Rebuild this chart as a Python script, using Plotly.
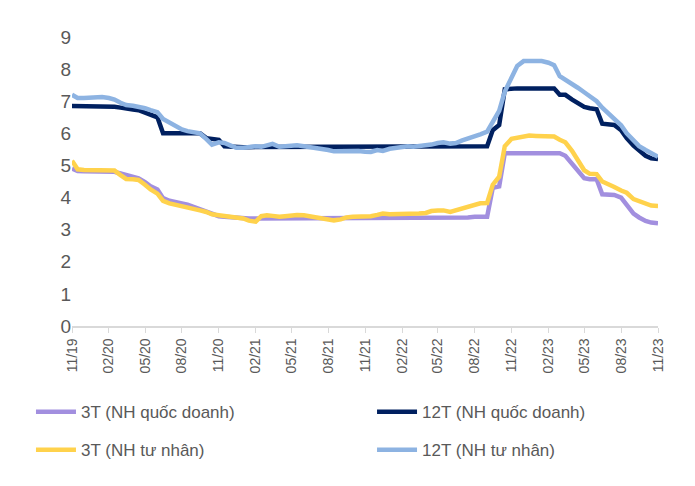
import pandas as pd
import plotly.graph_objects as go

# semi-monthly observations, 11/2019 .. 11/2023
dates = pd.date_range("2019-11-01", periods=97, freq="SMS")

tiet_kiem_3t_qd = [
    4.90, 4.83, 4.82, 4.82, 4.82, 4.82, 4.82, 4.80, 4.75, 4.70,
    4.65, 4.60, 4.48, 4.35, 4.25, 3.98, 3.90, 3.85, 3.82, 3.78,
    3.70, 3.62, 3.55, 3.47, 3.42, 3.40, 3.38, 3.36, 3.35, 3.35,
    3.35, 3.35, 3.35, 3.35, 3.35, 3.35, 3.35, 3.35, 3.35, 3.35,
    3.35, 3.35, 3.35, 3.35, 3.35, 3.35, 3.35, 3.35, 3.35, 3.35,
    3.35, 3.35, 3.35, 3.35, 3.35, 3.35, 3.35, 3.35, 3.35, 3.35,
    3.35, 3.35, 3.38, 3.38, 3.38, 3.38, 3.40, 3.40, 3.40, 4.30,
    4.35, 5.38, 5.38, 5.38, 5.38, 5.38, 5.38, 5.38, 5.38, 5.38,
    5.38, 5.30, 5.05, 4.80, 4.60, 4.57, 4.57, 4.10, 4.08, 4.08,
    4.00, 3.75, 3.50, 3.38, 3.27, 3.22, 3.20,
]

tiet_kiem_12t_qd = [
    6.85, 6.85, 6.85, 6.85, 6.85, 6.85, 6.85, 6.83, 6.80, 6.76,
    6.74, 6.72, 6.65, 6.58, 6.50, 6.00, 6.00, 6.00, 6.00, 6.00,
    6.00, 6.00, 5.85, 5.82, 5.80, 5.60, 5.58, 5.57, 5.57, 5.57,
    5.57, 5.57, 5.57, 5.57, 5.57, 5.57, 5.57, 5.57, 5.57, 5.57,
    5.57, 5.57, 5.57, 5.57, 5.57, 5.57, 5.57, 5.57, 5.57, 5.57,
    5.57, 5.57, 5.57, 5.57, 5.57, 5.57, 5.57, 5.58, 5.58, 5.58,
    5.58, 5.58, 5.58, 5.58, 5.60, 5.60, 5.60, 5.60, 5.60, 6.10,
    6.26, 7.37, 7.40, 7.40, 7.40, 7.40, 7.40, 7.40, 7.40, 7.40,
    7.20, 7.20, 7.05, 6.95, 6.82, 6.78, 6.75, 6.30, 6.28, 6.26,
    6.10, 5.85, 5.62, 5.45, 5.30, 5.22, 5.20,
]

tiet_kiem_3t_tn = [
    5.15, 4.88, 4.86, 4.86, 4.86, 4.86, 4.86, 4.84, 4.70, 4.58,
    4.57, 4.55, 4.40, 4.25, 4.12, 3.90, 3.82, 3.78, 3.75, 3.72,
    3.65, 3.60, 3.55, 3.48, 3.45, 3.42, 3.40, 3.36, 3.35, 3.28,
    3.25, 3.42, 3.45, 3.43, 3.40, 3.42, 3.45, 3.46, 3.45, 3.42,
    3.40, 3.38, 3.33, 3.29, 3.32, 3.38, 3.40, 3.40, 3.39, 3.42,
    3.46, 3.50, 3.48, 3.48, 3.50, 3.50, 3.50, 3.50, 3.52, 3.58,
    3.60, 3.60, 3.55, 3.60, 3.68, 3.72, 3.78, 3.82, 3.83, 4.40,
    4.65, 5.60, 5.83, 5.87, 5.92, 5.93, 5.92, 5.92, 5.91, 5.90,
    5.80, 5.72, 5.45, 5.15, 4.85, 4.74, 4.73, 4.50, 4.42, 4.33,
    4.22, 4.15, 3.95, 3.88, 3.80, 3.75, 3.74,
]

tiet_kiem_12t_tn = [
    7.20, 7.10, 7.10, 7.12, 7.13, 7.13, 7.10, 7.05, 6.95, 6.88,
    6.86, 6.83, 6.78, 6.72, 6.66, 6.45, 6.33, 6.22, 6.12, 6.07,
    6.03, 6.00, 5.82, 5.65, 5.72, 5.70, 5.62, 5.55, 5.55, 5.57,
    5.60, 5.58, 5.63, 5.67, 5.58, 5.60, 5.64, 5.63, 5.60, 5.58,
    5.55, 5.52, 5.48, 5.44, 5.45, 5.46, 5.46, 5.45, 5.43, 5.42,
    5.48, 5.45, 5.52, 5.55, 5.58, 5.60, 5.58, 5.60, 5.62, 5.65,
    5.70, 5.72, 5.68, 5.70, 5.78, 5.85, 5.92, 5.97, 6.05, 6.35,
    6.70, 7.30, 7.70, 8.10, 8.25, 8.26, 8.26, 8.25, 8.20, 8.12,
    7.78, 7.68, 7.55, 7.42, 7.28, 7.15, 7.00, 6.80, 6.60, 6.42,
    6.25, 6.00, 5.78, 5.60, 5.48, 5.38, 5.27,
]

series_names = ["3T (NH quốc doanh)", "12T (NH quốc doanh)", "3T (NH tư nhân)", "12T (NH tư nhân)"]
series_values = [tiet_kiem_3t_qd, tiet_kiem_12t_qd, tiet_kiem_3t_tn, tiet_kiem_12t_tn]
series_colors = ["#A28FDF", "#002060", "#FFD24C", "#8DB3E2"]
legend_ids = ["legend", "legend2", "legend3", "legend4"]

y_ticks = [0, 1, 2, 3, 4, 5, 6, 7, 8, 9]

fig = go.Figure()
for name, vals, col, lg in zip(series_names, series_values, series_colors, legend_ids):
    fig.add_trace(go.Scatter(x=dates, y=vals, name=name, mode="lines", legend=lg,
                             line=dict(color=col, width=4.5)))

font_family = "Liberation Sans, Arial, sans-serif"
leg_font = dict(size=17, color="#595959", family=font_family)
col_x = [-0.07, 0.512]
row_y = [-0.298, -0.43]
legend_positions = [(col_x[0], row_y[0]), (col_x[1], row_y[0]),
                    (col_x[0], row_y[1]), (col_x[1], row_y[1])]
legend_layout = {}
for lg, (lx, ly) in zip(legend_ids, legend_positions):
    legend_layout[lg] = dict(x=lx, y=ly, xanchor="left", yanchor="middle",
                             itemwidth=40, font=leg_font, bgcolor="rgba(0,0,0,0)")

fig.update_layout(
    width=687, height=478,
    margin=dict(l=64, r=37, t=29, b=160, autoexpand=False),
    paper_bgcolor="white", plot_bgcolor="white",
    font=dict(family=font_family, color="#595959"),
    showlegend=True,
    xaxis=dict(type="date", range=["2019-11-01", "2023-11-01"],
               tick0="2019-11-01", dtick="M3", tickformat="%m/%y",
               tickangle=-90, tickfont=dict(size=14, color="#595959"),
               showgrid=False, showline=True, linecolor="#D9D9D9", linewidth=1.5,
               ticks="outside", ticklen=5, tickcolor="#D9D9D9", zeroline=False,
               automargin=False),
    yaxis=dict(range=[0, 9], tickvals=y_ticks, ticktext=[str(v) for v in y_ticks],
               tickfont=dict(size=19, color="#595959"),
               showgrid=False, showline=False, zeroline=False, ticks="",
               automargin=False),
    **legend_layout,
)

fig.write_html("out.html")
